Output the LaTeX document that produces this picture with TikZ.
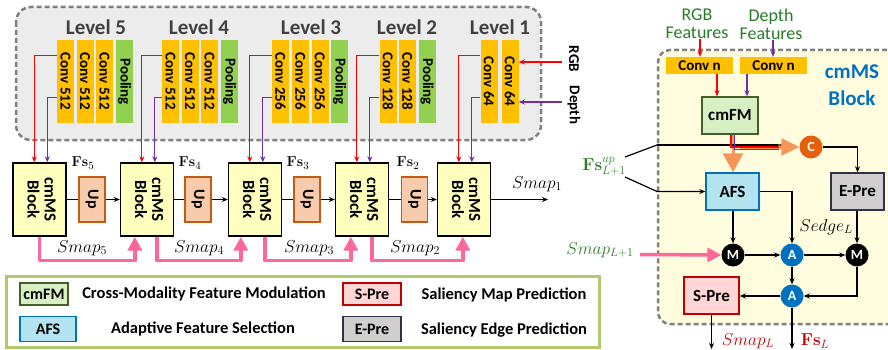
\documentclass[tikz,border=0pt]{standalone}
\usepackage[no-math]{fontspec}
\setmainfont{Carlito}
\usepackage{graphicx}
\usetikzlibrary{arrows.meta,calc}
\definecolor{convc}{RGB}{255,192,0}
\definecolor{poolc}{RGB}{146,208,80}
\definecolor{panelg}{RGB}{236,236,236}
\definecolor{dashg}{RGB}{128,128,128}
\definecolor{blockc}{RGB}{255,255,190}
\definecolor{upfill}{RGB}{248,203,173}
\definecolor{updraw}{RGB}{197,90,17}
\definecolor{pinkc}{RGB}{255,102,153}
\definecolor{redc}{RGB}{255,0,0}
\definecolor{purc}{RGB}{112,48,160}
\definecolor{rpanel}{RGB}{255,253,222}
\definecolor{fmfill}{RGB}{214,240,196}
\definecolor{fmdraw}{RGB}{70,95,40}
\definecolor{afsfill}{RGB}{180,228,240}
\definecolor{afsdraw}{RGB}{0,112,192}
\definecolor{epfill}{RGB}{208,206,206}
\definecolor{epdraw}{RGB}{50,50,70}
\definecolor{spfill}{RGB}{255,214,214}
\definecolor{spdraw}{RGB}{192,0,0}
\definecolor{ccirc}{RGB}{228,96,10}
\definecolor{acirc}{RGB}{0,112,192}
\definecolor{orgc}{RGB}{248,150,90}
\definecolor{greent}{RGB}{40,125,40}
\definecolor{blulab}{RGB}{0,112,192}
\definecolor{darkred}{RGB}{192,0,0}
\definecolor{levgray}{RGB}{64,64,64}
\definecolor{leggreen}{RGB}{176,202,108}
\begin{document}
\begin{tikzpicture}[x=1pt,y=-1pt,
  convbox/.style={fill=convc, minimum width=17pt, minimum height=83pt, inner sep=0pt, font=\bfseries\fontsize{15}{15}\selectfont},
  poolbox/.style={convbox, fill=poolc},
  levtext/.style={font=\bfseries\fontsize{21}{21}\selectfont, text=levgray, inner sep=0pt},
  cmmsbox/.style={draw=black, line width=1.4pt, fill=blockc, minimum width=53pt, minimum height=73pt, inner sep=0pt, font=\bfseries\fontsize{17}{17}\selectfont},
  upbox/.style={draw=updraw, line width=1.4pt, fill=upfill, minimum width=26pt, minimum height=45pt, inner sep=0pt, font=\bfseries\fontsize{16}{16}\selectfont},
  blk/.style={line width=1.2pt, -{Stealth[length=6pt,width=5pt]}},
  blkline/.style={line width=1.2pt},
  redarr/.style={draw=redc, line width=1.2pt, -{Stealth[length=6pt,width=5pt]}},
  purarr/.style={draw=purc, line width=1.2pt, -{Stealth[length=6pt,width=5pt]}},
  pinkarr/.style={draw=pinkc, line width=3.5pt, line join=round, -{Triangle[length=14pt,width=14pt]}},
  mathlab/.style={font=\fontsize{17}{17}\selectfont, inner sep=0pt},
  fslab/.style={font=\fontsize{15}{15}\selectfont, inner sep=0pt},
  legtext/.style={font=\bfseries\fontsize{16.5}{16.5}\selectfont, inner sep=0pt},
  smallbox/.style={line width=1.4pt, inner sep=0pt, font=\bfseries\fontsize{17}{17}\selectfont},
  legbox/.style={smallbox, font=\bfseries\fontsize{16}{16}\selectfont},
  circ/.style={circle, minimum size=23pt, inner sep=0pt, text=white, font=\bfseries\fontsize{14}{14}\selectfont},
  dashframe/.style={draw=dashg, line width=2.5pt, dash pattern=on 5pt off 3pt}
]
\path[use as bounding box] (0,0) rectangle (888,350);
\clip (0,0) rectangle (888,350);

% ---------- left encoder panel ----------
\filldraw[dashframe, fill=panelg, rounded corners=15pt] (16,7) rectangle (541,140);

\node[levtext] (lev5) at (96,27) {Level 5};
\node[levtext] (lev4) at (199,27) {Level 4};
\node[levtext] (lev3) at (311,27) {Level 3};
\node[levtext] (lev2) at (407,27) {Level 2};
\node[levtext] (lev1) at (500,27) {Level 1};

\node[convbox] (c5a) at (65.5,81.5) {\rotatebox{-90}{Conv 512}};
\node[convbox] (c5b) at (85,81.5) {\rotatebox{-90}{Conv 512}};
\node[convbox] (c5c) at (104.5,81.5) {\rotatebox{-90}{Conv 512}};
\node[poolbox] (p5) at (124.5,81.5) {\rotatebox{-90}{Pooling}};

\node[convbox] (c4a) at (170.5,81.5) {\rotatebox{-90}{Conv 512}};
\node[convbox] (c4b) at (190,81.5) {\rotatebox{-90}{Conv 512}};
\node[convbox] (c4c) at (209.5,81.5) {\rotatebox{-90}{Conv 512}};
\node[poolbox] (p4) at (229.5,81.5) {\rotatebox{-90}{Pooling}};

\node[convbox] (c3a) at (280.5,81.5) {\rotatebox{-90}{Conv 256}};
\node[convbox] (c3b) at (300.5,81.5) {\rotatebox{-90}{Conv 256}};
\node[convbox] (c3c) at (320,81.5) {\rotatebox{-90}{Conv 256}};
\node[poolbox] (p3) at (339.5,81.5) {\rotatebox{-90}{Pooling}};

\node[convbox] (c2a) at (388,81.5) {\rotatebox{-90}{Conv 128}};
\node[convbox] (c2b) at (407.5,81.5) {\rotatebox{-90}{Conv 128}};
\node[poolbox] (p2) at (427,81.5) {\rotatebox{-90}{Pooling}};

\node[convbox] (c1a) at (489,81.5) {\rotatebox{-90}{Conv 64}};
\node[convbox] (c1b) at (510,81.5) {\rotatebox{-90}{Conv 64}};

% RGB / Depth inputs
\node[font=\bfseries\fontsize{15}{15}\selectfont, inner sep=0pt] (rgbt) at (574,59) {\rotatebox{-90}{RGB}};
\node[font=\bfseries\fontsize{15}{15}\selectfont, inner sep=0pt] (dept) at (574,105) {\rotatebox{-90}{Depth}};
\coordinate (rgbin) at (562,62);
\coordinate (depin) at (562,102);
\draw[redarr] (rgbin) -- (rgbin -| c1b.east);
\draw[purarr] (depin) -- (depin -| c1b.east);

% ---------- decoder chain ----------
\node[cmmsbox] (blk5) at (39.5,199.5) {\rotatebox{-90}{\begin{tabular}{@{}c@{}}cmMS\\Block\end{tabular}}};
\node[cmmsbox] (blk4) at (147,199.5) {\rotatebox{-90}{\begin{tabular}{@{}c@{}}cmMS\\Block\end{tabular}}};
\node[cmmsbox] (blk3) at (255,199.5) {\rotatebox{-90}{\begin{tabular}{@{}c@{}}cmMS\\Block\end{tabular}}};
\node[cmmsbox] (blk2) at (362,199.5) {\rotatebox{-90}{\begin{tabular}{@{}c@{}}cmMS\\Block\end{tabular}}};
\node[cmmsbox] (blk1) at (464,199.5) {\rotatebox{-90}{\begin{tabular}{@{}c@{}}cmMS\\Block\end{tabular}}};

\node[upbox] (up5) at (92,199.5) {\rotatebox{-90}{Up}};
\node[upbox] (up4) at (198,199.5) {\rotatebox{-90}{Up}};
\node[upbox] (up3) at (307,199.5) {\rotatebox{-90}{Up}};
\node[upbox] (up2) at (414.5,199.5) {\rotatebox{-90}{Up}};

% encoder to blocks
\foreach \c/\b in {c5a/blk5, c4a/blk4, c3a/blk3, c2a/blk2, c1a/blk1}{
  \draw[redarr] ($(\c.north west)+(0,16)$) -| ($(\b.north west)+(22,0)$);
  \draw[purarr] ($(\c.north west)+(0,58)$) -| ($(\b.north west)+(35,0)$);
}

\foreach \a/\u/\b in {blk5/up5/blk4, blk4/up4/blk3, blk3/up3/blk2, blk2/up2/blk1}{
  \draw[blkline] (\a.east) -- (\u.west);
  \draw[blk] (\u.east) -- (\b.west);
}
\coordinate (smapout) at (548,199.5);
\draw[blk] (blk1.east) -- (smapout);
\node[mathlab] (smap1) at (537,184) {$Smap_1$};

\node[fslab] (fs5) at (83,163) {$\mathbf{Fs}_{5}$};
\node[fslab] (fs4) at (190,163) {$\mathbf{Fs}_{4}$};
\node[fslab] (fs3) at (298,163) {$\mathbf{Fs}_{3}$};
\node[fslab] (fs2) at (408,163) {$\mathbf{Fs}_{2}$};

% pink saliency map connectors
\draw[pinkarr] ($(blk5.south west)+(27,0)$) -- ++(0,24) -| ($(blk4.south west)+(15,0)$);
\draw[pinkarr] ($(blk4.south west)+(37,0)$) -- ++(0,24) -| ($(blk3.south west)+(13,0)$);
\draw[pinkarr] ($(blk3.south west)+(37,0)$) -- ++(0,24) -| ($(blk2.south west)+(16,0)$);
\draw[pinkarr] ($(blk2.south west)+(37,0)$) -- ++(0,24) -| ($(blk1.south west)+(26,0)$);
\node[mathlab] (sm5) at (82,248) {$Smap_5$};
\node[mathlab] (sm4) at (199,248) {$Smap_4$};
\node[mathlab] (sm3) at (309,248) {$Smap_3$};
\node[mathlab] (sm2) at (415,248) {$Smap_2$};

% ---------- legend ----------
\draw[draw=leggreen, line width=3pt, fill=white] (6,276) rectangle (599,347);
\node[legbox, draw=fmdraw, fill=fmfill, minimum width=48pt, minimum height=22pt] (lgfm) at (44,294) {cmFM};
\node[legtext] (lgfmt) at (204,294) {Cross-Modality Feature Modulation};
\node[legbox, draw=afsdraw, fill=afsfill, minimum width=56pt, minimum height=25pt] (lgafs) at (48,329) {AFS};
\node[legtext] (lgafst) at (203,329) {Adaptive Feature Selection};
\node[legbox, draw=spdraw, fill=spfill, minimum width=58pt, minimum height=22pt] (lgsp) at (372,294) {S-Pre};
\node[legtext] (lgspt) at (504,295) {Saliency Map Prediction};
\node[legbox, draw=epdraw, fill=epfill, minimum width=58pt, minimum height=25pt] (lgep) at (372,329) {E-Pre};
\node[legtext] (lgept) at (504,330) {Saliency Edge Prediction};

% ---------- right: cmMS block detail ----------
\fill[rpanel, rounded corners=12pt] (895,50) -- (658,50) -- (658,324) -- (895,324) -- cycle;
\draw[dashframe, rounded corners=12pt] (895,50) -- (658,50) -- (658,324) -- (895,324);

\node[font=\fontsize{18}{18}\selectfont, text=greent, align=center, inner sep=0pt] (rgbf) at (697,24) {RGB\\Features};
\node[font=\fontsize{18}{18}\selectfont, text=greent, align=center, inner sep=0pt] (depf) at (771,24) {Depth\\Features};
\node[font=\bfseries\fontsize{21}{27}\selectfont, text=blulab, align=center, inner sep=0pt] (cmmslab) at (852,85) {cmMS\\Block};

\node[fill=convc, minimum width=67pt, minimum height=17pt, inner sep=0pt, font=\bfseries\fontsize{15}{15}\selectfont] (cn1) at (699.5,65.5) {Conv n};
\node[fill=convc, minimum width=67pt, minimum height=17pt, inner sep=0pt, font=\bfseries\fontsize{15}{15}\selectfont] (cn2) at (773.5,65.5) {Conv n};
\draw[redarr] (rgbf.south -| 700,0) -- (cn1.north -| 700,0);
\draw[purarr] (depf.south -| 773,0) -- (cn2.north -| 773,0);

\node[smallbox, draw=fmdraw, fill=fmfill, minimum width=56pt, minimum height=37pt] (cmfm) at (730,115.5) {cmFM};
\draw[redarr] (cn1.south -| 717,0) -- (cmfm.north -| 717,0);
\draw[purarr] (cn2.south -| 747,0) -- (cmfm.north -| 747,0);

\node[smallbox, draw=afsdraw, fill=afsfill, minimum width=53pt, minimum height=37pt] (afs) at (732.5,191.5) {AFS};
\node[smallbox, draw=epdraw, fill=epfill, minimum width=53pt, minimum height=37pt] (epre) at (857.5,191.5) {E-Pre};
\node[smallbox, draw=spdraw, fill=spfill, minimum width=55pt, minimum height=37pt] (spre) at (711.5,295.5) {S-Pre};

\node[circ, fill=ccirc] (cc) at (811,147) {C};
\node[circ, fill=black] (m1) at (733,255) {M};
\node[circ, fill=acirc] (a1) at (792,255) {A};
\node[circ, fill=black] (m2) at (857,255) {M};
\node[circ, fill=acirc] (a2) at (792,296) {A};

% Fs^up input
\node[font=\fontsize{18}{18}\selectfont, text=greent, inner sep=0pt] (fsup) at (604,166) {$\mathbf{Fs}^{up}_{L+1}$};
\coordinate (fsa) at (625,157);
\coordinate (fsb) at (625,177);
\draw[blkline] (fsa) -- (657,145) -- ($(cc.west)+(-6,-2)$);
\draw[blk] (fsb) -- (657,191.5) -- (afs.west);

% orange arrows and red/purple bundle
\draw[draw=orgc, line width=3pt, -{Triangle[length=19pt,width=20pt]}] (cmfm.south -| 733,0) -- (afs.north -| 733,0);
\draw[draw=orgc, line width=3pt, -{Triangle[length=18pt,width=17pt]}] (740,147) -- (cc.west);
\draw[blkline] (657,145) -- (778,145);
\draw[draw=redc, line width=1.3pt] (cmfm.south -| 731,0) |- (779,147);
\draw[draw=purc, line width=1.3pt] (cmfm.south -| 734.5,0) |- (779,149.5);

% inner connectors
\draw[blk] (cc.east) -| (epre.north);
\draw[blk] (afs.south -| m1.north) -- (m1.north);
\draw[blk] (afs.east) -| (a1.north);
\draw[blk] (m1.east) -- (a1.west);
\draw[blk] (a1.east) -- (m2.west);
\draw[blk] (epre.south -| m2.north) -- (m2.north);
\draw[blk] (m2.south) |- (a2.east);
\draw[blk] (a1.south) -- (a2.north);
\draw[blk] (a2.west) -- (spre.east |- a2.west);
\coordinate (spout) at (711.5,349);
\coordinate (fsout) at (792,349);
\draw[blk] (spre.south) -- (spout);
\draw[blk] (a2.south) -- (fsout);

\node[mathlab] (sedge) at (826,227) {$Sedge_L$};
\node[font=\fontsize{18}{18}\selectfont, text=greent, inner sep=0pt] (smapl1) at (600,250) {$Smap_{L+1}$};
\coordinate (smapin) at (640,254.5);
\draw[pinkarr] (smapin) -- (m1.west);
\node[font=\fontsize{18}{18}\selectfont, text=darkred, inner sep=0pt] (smapl) at (748,341) {$Smap_L$};
\node[font=\fontsize{18}{18}\selectfont, text=darkred, inner sep=0pt] (fsl) at (815,341) {$\mathbf{Fs}_L$};
\end{tikzpicture}
\end{document}
